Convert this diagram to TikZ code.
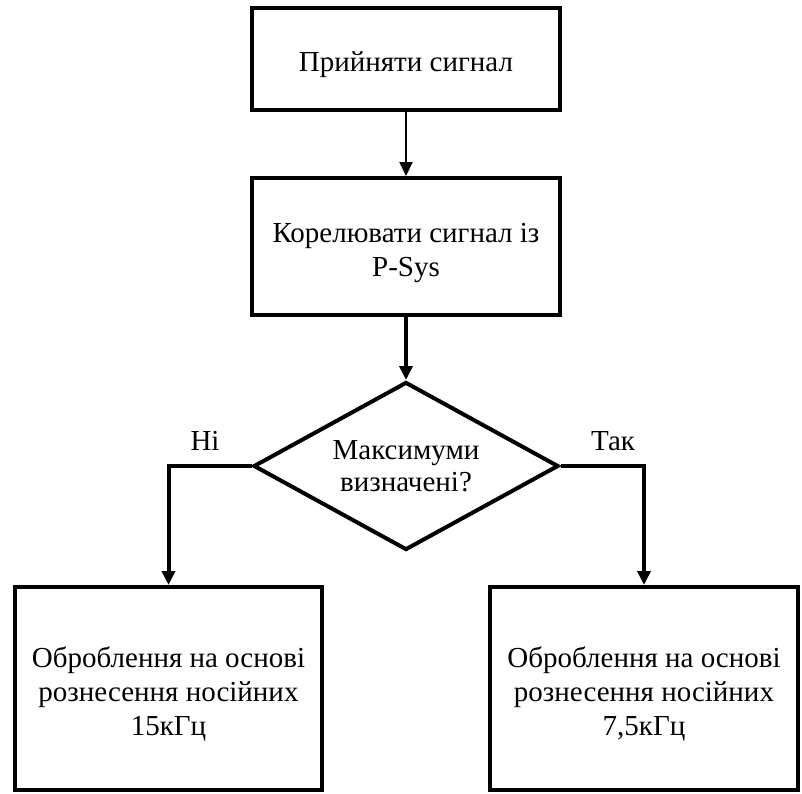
\documentclass[tikz,border=0pt]{standalone}
\usepackage{fontspec}
\setmainfont{Liberation Serif}
\usetikzlibrary{shapes.geometric,arrows.meta}
\newcommand{\topstrut}{\rule{0pt}{32pt}}
\begin{document}
\begin{tikzpicture}[x=1pt,y=-1pt,
  blk/.style={draw,line width=4pt,align=center,inner sep=0pt,font=\fontsize{29}{34}\selectfont},
  dec/.style={draw,diamond,aspect=1.8,line width=4pt,align=center,inner sep=0pt,minimum width=305pt,minimum height=168pt,font=\fontsize{29}{32}\selectfont},
  thinarr/.style={line width=2pt,-{Triangle[length=14pt,width=13pt]}},
  thickarr/.style={line width=4pt,-{Triangle[length=14pt,width=13pt]}},
  lbl/.style={font=\fontsize{29}{32}\selectfont}]
\useasboundingbox (0,0) rectangle (802,793);
\node[blk,minimum width=308pt,minimum height=102pt] (a) at (406,59) {\topstrut Прийняти сигнал};
\node[blk,minimum width=308pt,minimum height=137pt] (b) at (406,246.5) {\topstrut Корелювати сигнал із\\P-Sys};
\node[dec] (c) at (406,466) {Максимуми\\визначені?};
\node[blk,minimum width=307pt,minimum height=203pt] (d) at (168.5,688.5) {\topstrut Оброблення на основі\\рознесення носійних\\15кГц};
\node[blk,minimum width=308pt,minimum height=203pt] (e) at (644,688.5) {\topstrut Оброблення на основі\\рознесення носійних\\7,5кГц};
\draw[thinarr] (a.south) -- (b.north);
\draw[thickarr] (b.south) -- (c.north);
\draw[thickarr] (c.west) -| (d.north);
\draw[thickarr] (c.east) -| (e.north);
\node[lbl] (no) at (205,441) {Ні};
\node[lbl] (yes) at (613,441) {Так};
\end{tikzpicture}
\end{document}
